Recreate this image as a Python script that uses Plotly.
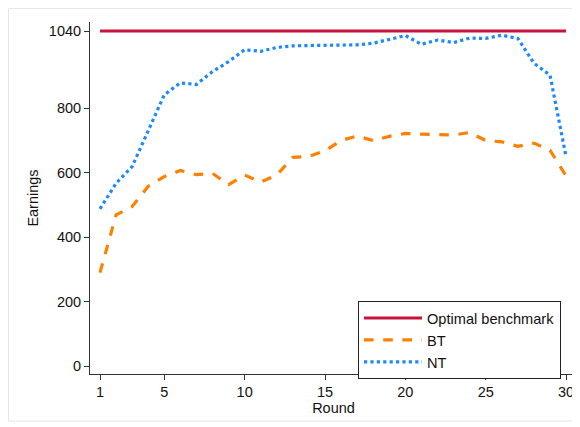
import plotly.graph_objects as go

rounds = list(range(1, 31))
optimal = [1040] * 30
bt = [290, 469, 495, 558, 588, 607, 594, 598, 563, 593, 571, 593, 648, 651, 668,
      700, 714, 700, 713, 722, 720, 718, 717, 725, 700, 696, 682, 692, 670, 590]
nt = [488, 567, 619, 733, 842, 879, 874, 914, 945, 982, 977, 989, 994, 995, 996,
      996, 997, 1002, 1014, 1026, 999, 1012, 1004, 1018, 1017, 1027, 1017, 940, 903, 650]

OFF = 8  # page body margin
W, H = 580 - OFF, 427 - OFF
# plot area in page pixels: x 90..577, y 22..374
L, R, T, B = 90 - OFF, 580 - 577, 22 - OFF, 427 - 374
pw = W - L - R
ph = H - T - B

fig = go.Figure()
fig.add_trace(go.Scatter(x=rounds, y=optimal, mode="lines", name="Optimal benchmark",
                         line=dict(color="#C8143C", width=3.2)))
fig.add_trace(go.Scatter(x=rounds, y=bt, mode="lines", name="BT",
                         line=dict(color="#FF8000", width=3.2, dash="dash")))
fig.add_trace(go.Scatter(x=rounds, y=nt, mode="lines", name="NT",
                         line=dict(color="#1E88FF", width=3.2, dash="dot")))

def px_x(p):  # page pixel -> paper
    return (p - OFF - L) / pw

def px_y(p):
    return (H - B - (p - OFF)) / ph

fig.add_shape(type="rect", xref="paper", yref="paper",
              x0=px_x(8.5), x1=px_x(578), y0=px_y(421), y1=px_y(8.5),
              line=dict(color="#E6E6E6", width=1), fillcolor="rgba(0,0,0,0)", layer="below")

fig.update_layout(
    width=W, height=H,
    margin=dict(l=L, r=R, t=T, b=B),
    paper_bgcolor="white", plot_bgcolor="white",
    font=dict(family="Liberation Sans, Arial, sans-serif", size=14, color="#111"),
    showlegend=True,
    legend=dict(x=px_x(358), y=px_y(301), xanchor="left", yanchor="top",
                bgcolor="white", bordercolor="#222", borderwidth=1,
                font=dict(size=14.6), itemwidth=58, tracegroupgap=0),
    xaxis=dict(range=[0.378, 30.68], tickvals=[1, 5, 10, 15, 20, 25, 30],
               showgrid=False, zeroline=False, showline=True, linecolor="#333", linewidth=1,
               ticks="outside", ticklen=5, tickcolor="#333",
               title=dict(text="Round", standoff=2, font=dict(size=14.5)),
               tickfont=dict(size=14.5)),
    yaxis=dict(range=[-24.8, 1068], tickvals=[0, 200, 400, 600, 800, 1040],
               showgrid=False, zeroline=False, showline=True, linecolor="#333", linewidth=1,
               ticks="outside", ticklen=5, tickcolor="#333",
               title=dict(text="Earnings", standoff=6, font=dict(size=14.5)),
               tickfont=dict(size=14.5)),
)

fig.write_html("out.html")
